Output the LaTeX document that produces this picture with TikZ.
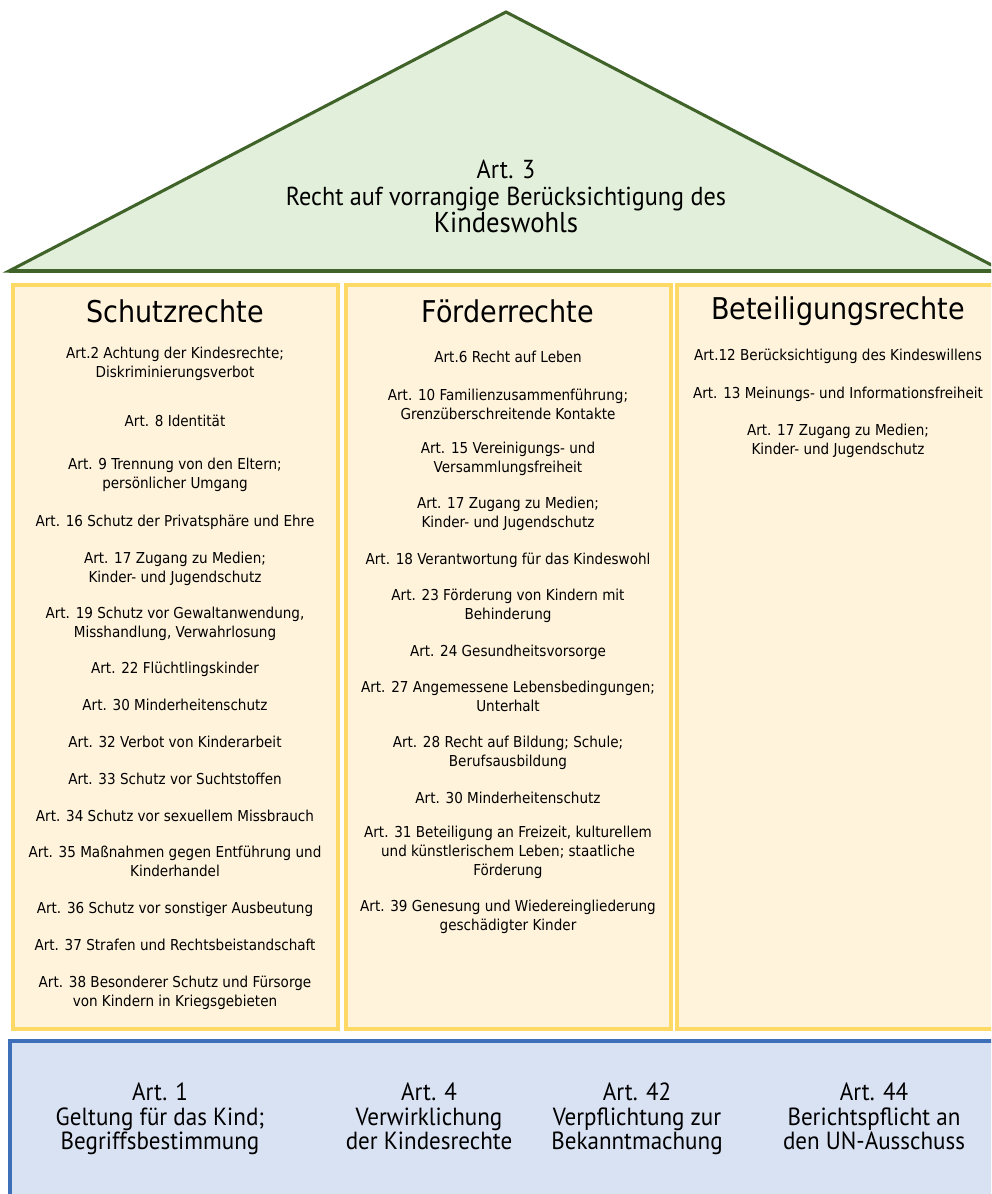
\documentclass[tikz,border=0pt]{standalone}
\usepackage{fontspec}
\setmainfont{DejaVu Sans Condensed}
\newfontfamily\narrowfont{PT Sans}[FakeStretch=0.93]
\usepackage{tikz}
\definecolor{roofgreen}{HTML}{E2EFDA}
\definecolor{roofline}{HTML}{3F6329}
\definecolor{pillarfill}{HTML}{FFF3DC}
\definecolor{pillarline}{HTML}{FFD966}
\definecolor{basefill}{HTML}{D9E2F3}
\definecolor{baseline}{HTML}{3D70B8}
\tikzset{
  item/.style={align=center, inner sep=0pt, yshift=-1.5pt, font=\fontsize{11.3}{14.2}\selectfont,
    execute at begin node=\strut, execute at end node=\strut},
  heading/.style={inner sep=0pt, font=\fontsize{22.5}{26}\selectfont},
  pillar/.style={draw=pillarline, fill=pillarfill, line width=2.3pt},
  basetext/.style={align=center, inner sep=0pt, font=\narrowfont\fontsize{18.6}{18.6}\selectfont,
    execute at begin node=\strut, execute at end node=\strut}
}

\begin{document}
\begin{tikzpicture}[x=0.75pt,y=-0.75pt]
   \useasboundingbox (0,0) rectangle (991,1194);
   \clip (0,0) rectangle (991,1194);
   % roof
   \draw [roofline, line width=2.3pt, fill=roofgreen, line join=miter] (9,271) -- (506,12) -- (1003,271) -- cycle;
   \draw [roofline, line width=3.2pt] (9,271) -- (1003,271);
   \node [align=center, inner sep=0pt, font=\narrowfont\fontsize{19.5}{20.25}\selectfont] (art3) at (506,196)
      {Art. 3\\Recht auf vorrangige Berücksichtigung des\\{\fontsize{21.5}{20.25}\selectfont Kindeswohls}};
   % pillars
   \draw [pillar] (13,285) rectangle (338,1029);
   \draw [pillar] (346,285) rectangle (671,1029);
   \draw [pillar] (677,285) rectangle (1005,1029);
   \node [heading] (schutz) at (175,311) {Schutzrechte};
   \node [heading] (foerder) at (508,311) {Förderrechte};
   \node [heading] (beteil) at (838,311) {Beteiligungsrechte};
   % Schutzrechte
   \node [item] (s2) at (175,363.5) {Art.2 Achtung der Kindesrechte;\\Diskriminierungsverbot};
   \node [item] (s8) at (175,421) {Art. 8 Identität};
   \node [item] (s9) at (175,474.5) {Art. 9 Trennung von den Eltern;\\persönlicher Umgang};
   \node [item] (s16) at (175,521) {Art. 16 Schutz der Privatsphäre und Ehre};
   \node [item] (s17) at (175,568) {Art. 17 Zugang zu Medien;\\Kinder- und Jugendschutz};
   \node [item] (s19) at (175,623) {Art. 19 Schutz vor Gewaltanwendung,\\Misshandlung, Verwahrlosung};
   \node [item] (s22) at (175,668) {Art. 22 Flüchtlingskinder};
   \node [item] (s30) at (175,705) {Art. 30 Minderheitenschutz};
   \node [item] (s32) at (175,742) {Art. 32 Verbot von Kinderarbeit};
   \node [item] (s33) at (175,779) {Art. 33 Schutz vor Suchtstoffen};
   \node [item] (s34) at (175,816) {Art. 34 Schutz vor sexuellem Missbrauch};
   \node [item] (s35) at (175,862.5) {Art. 35 Maßnahmen gegen Entführung und\\Kinderhandel};
   \node [item] (s36) at (175,908) {Art. 36 Schutz vor sonstiger Ausbeutung};
   \node [item] (s37) at (175,945) {Art. 37 Strafen und Rechtsbeistandschaft};
   \node [item] (s38) at (175,992) {Art. 38 Besonderer Schutz und Fürsorge\\von Kindern in Kriegsgebieten};
   % Foerderrechte
   \node [item] (f6) at (508,357) {Art.6 Recht auf Leben};
   \node [item] (f10) at (508,405) {Art. 10 Familienzusammenführung;\\Grenzüberschreitende Kontakte};
   \node [item] (f15) at (508,458.5) {Art. 15 Vereinigungs- und\\Versammlungsfreiheit};
   \node [item] (f17) at (508,513) {Art. 17 Zugang zu Medien;\\Kinder- und Jugendschutz};
   \node [item] (f18) at (508,559) {Art. 18 Verantwortung für das Kindeswohl};
   \node [item] (f23) at (508,605) {Art. 23 Förderung von Kindern mit\\Behinderung};
   \node [item] (f24) at (508,651) {Art. 24 Gesundheitsvorsorge};
   \node [item] (f27) at (508,697) {Art. 27 Angemessene Lebensbedingungen;\\Unterhalt};
   \node [item] (f28) at (508,752) {Art. 28 Recht auf Bildung; Schule;\\Berufsausbildung};
   \node [item] (f30) at (508,798) {Art. 30 Minderheitenschutz};
   \node [item] (f31) at (508,852) {Art. 31 Beteiligung an Freizeit, kulturellem\\und künstlerischem Leben; staatliche\\Förderung};
   \node [item] (f39) at (508,916) {Art. 39 Genesung und Wiedereingliederung\\geschädigter Kinder};
   % Beteiligungsrechte
   \node [item] (b12) at (838,355) {Art.12 Berücksichtigung des Kindeswillens};
   \node [item] (b13) at (838,393) {Art. 13 Meinungs- und Informationsfreiheit};
   \node [item] (b17) at (838,440) {Art. 17 Zugang zu Medien;\\Kinder- und Jugendschutz};
   % foundation
   \draw [draw=baseline, fill=basefill, line width=2.6pt] (10,1041) rectangle (1005,1210);
   \node [basetext] (a1) at (160,1120) {Art. 1\\Geltung für das Kind;\\Begriffsbestimmung};
   \node [basetext] (a4) at (429,1120) {Art. 4\\Verwirklichung\\der Kindesrechte};
   \node [basetext] (a42) at (637,1120) {Art. 42\\Verpflichtung zur\\Bekanntmachung};
   \node [basetext] (a44) at (874,1120) {Art. 44\\Berichtspflicht an\\den UN-Ausschuss};
\end{tikzpicture}
\end{document}
